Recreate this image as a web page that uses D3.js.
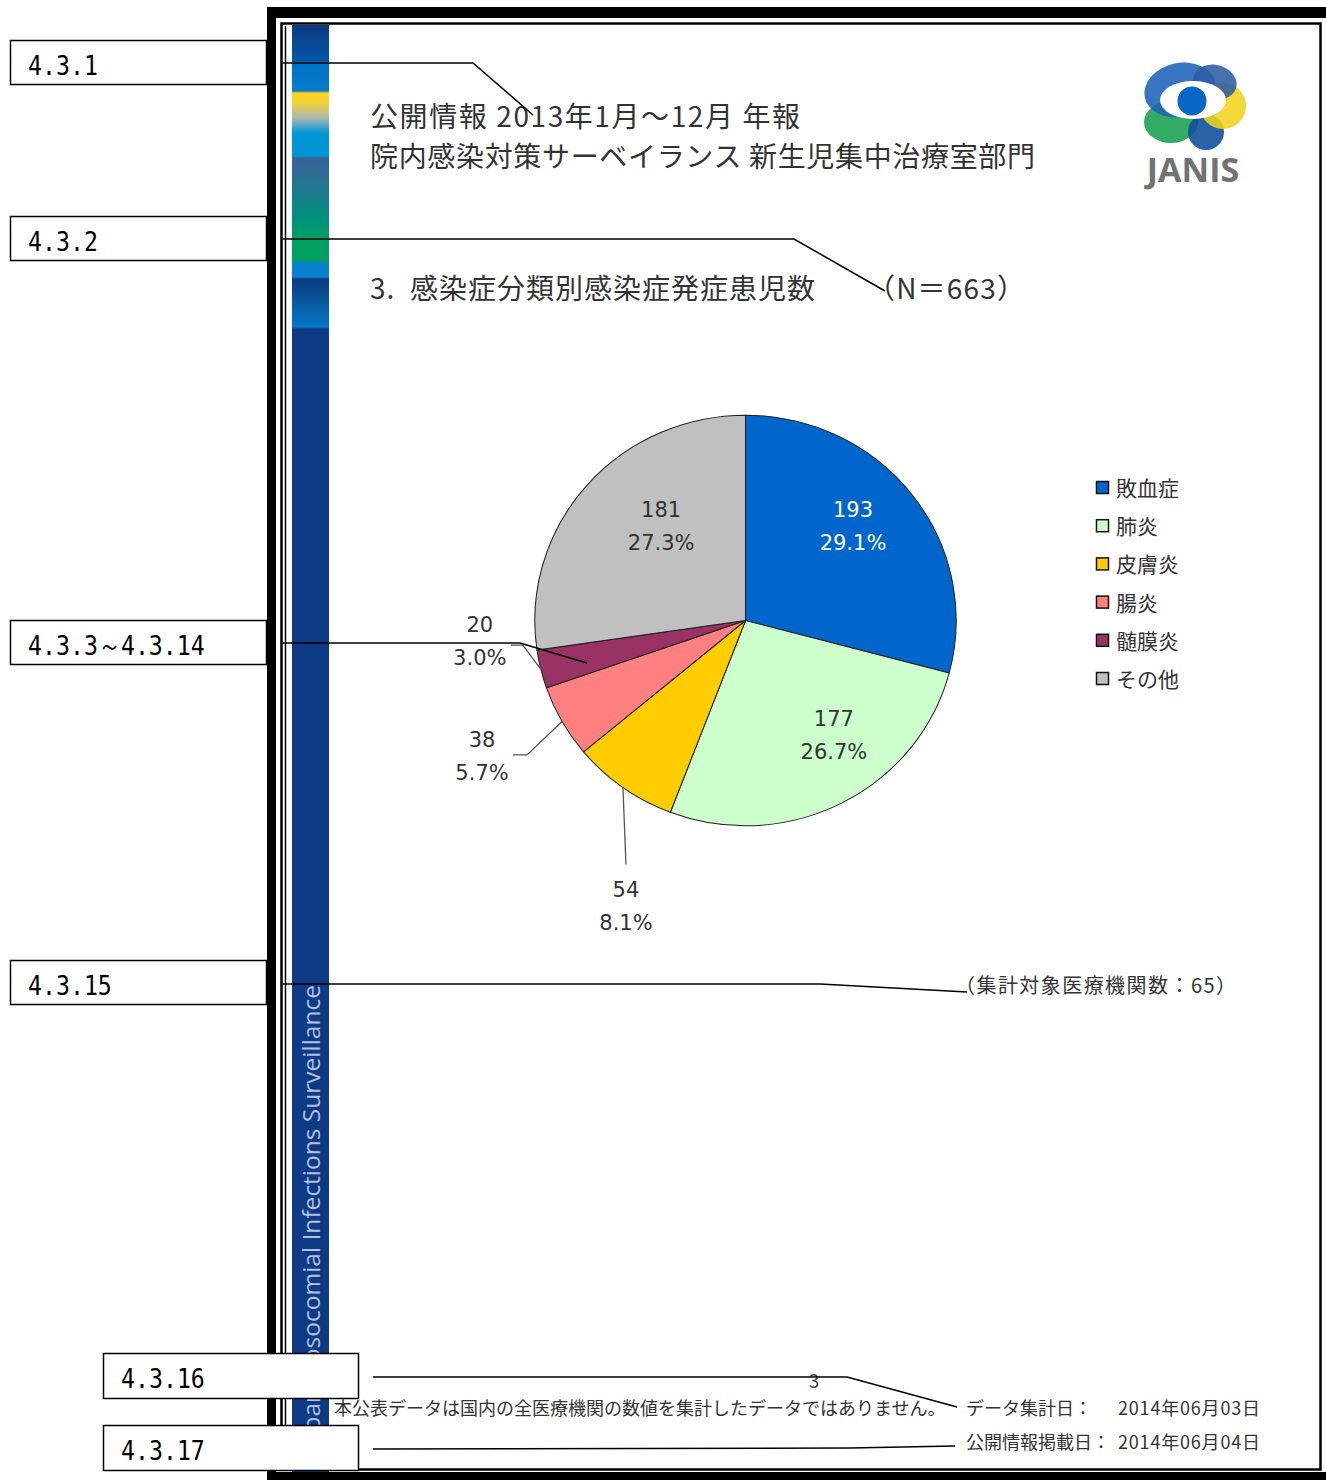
<!DOCTYPE html>
<html>
<head>
<meta charset="utf-8">
<script src="https://cdn.jsdelivr.net/npm/d3@7"></script>
<style>
body { margin: 0; background: #fff; }
svg { display: block; }
</style>
</head>
<body>
<svg id="page"></svg>
<script>
// chart data
const categories = ["敗血症", "肺炎", "皮膚炎", "腸炎", "髄膜炎", "その他"];
const counts = [193, 177, 54, 38, 20, 181];
const sliceColors = ["#0066cc", "#ccffcc", "#ffcc00", "#ff8080", "#993366", "#c0c0c0"];
const totalN = 663;
const facilityCount = 65;

const titleLines = ["公開情報 2013年1月～12月 年報", "院内感染対策サーベイランス 新生児集中治療室部門"];
const sectionTitle = "3.  感染症分類別感染症発症患児数";
const boxLabels = ["4.3.1", "4.3.2", "4.3.3～4.3.14", "4.3.15", "4.3.16", "4.3.17"];
const footNote = "本公表データは国内の全医療機関の数値を集計したデータではありません。";
const dateLabels = ["データ集計日：", "公開情報掲載日："];
const dateValues = ["2014年06月03日", "2014年06月04日"];

const W = 1326, H = 1480;
const jp = "'Noto Sans CJK JP', 'Noto Sans', sans-serif";
const svg = d3.select("#page").attr("width", W).attr("height", H);
const defs = svg.append("defs");

// ---- side stripe
const grad = defs.append("linearGradient").attr("id", "stripe")
    .attr("x1", 0).attr("y1", 0).attr("x2", 0).attr("y2", 1);
const stripeTop = 25, stripeH = H - stripeTop;
[[25, "#0c3a82"], [61, "#0656a8"], [63, "#0072c6"], [91, "#0a7cca"], [93, "#ffd21a"],
 [103, "#f4d23a"], [118, "#a9b8b4"], [133, "#0096d6"], [156, "#0096d6"], [158, "#3a6298"],
 [190, "#1e7890"], [218, "#00907a"], [240, "#00a062"], [261, "#00a062"], [263, "#0a80d0"],
 [277, "#0a80d0"], [279, "#0b3a80"], [327, "#0678c6"], [329, "#0d3b86"], [H, "#0d3b86"]]
    .forEach(s => grad.append("stop")
        .attr("offset", (s[0] - stripeTop) / stripeH)
        .attr("stop-color", s[1]));

svg.append("rect").attr("x", 292).attr("y", stripeTop).attr("width", 37).attr("height", stripeH)
    .attr("fill", "url(#stripe)");

svg.append("text")
    .attr("transform", "translate(320,985) rotate(-90)")
    .attr("text-anchor", "end")
    .attr("font-family", "'Open Sans', sans-serif")
    .attr("font-size", 24.5)
    .attr("fill", "#b4c0dc")
    .text("Japan Nosocomial Infections Surveillance");

// ---- frame
svg.append("rect").attr("x", 267).attr("y", 7).attr("width", W - 267).attr("height", 11).attr("fill", "#000");
svg.append("rect").attr("x", 267).attr("y", 7).attr("width", 9).attr("height", H - 7).attr("fill", "#000");
svg.append("rect").attr("x", 267).attr("y", 1472).attr("width", W - 267).attr("height", 8).attr("fill", "#000");
svg.append("rect").attr("x", 281.5).attr("y", 23.5).attr("width", 1039).attr("height", 1446)
    .attr("fill", "none").attr("stroke", "#000").attr("stroke-width", 2.5);
svg.append("line").attr("x1", 285.5).attr("x2", 285.5).attr("y1", 26).attr("y2", 1467)
    .attr("stroke", "#000").attr("stroke-width", 1.5);

// ---- titles
const title = svg.append("g").attr("font-family", jp).attr("font-size", 28).attr("fill", "#333");
const titleLen = [430, 665];
title.selectAll("text.t").data(titleLines).join("text").attr("class", "t")
    .attr("x", 370).attr("y", (d, i) => 127 + i * 40)
    .attr("textLength", (d, i) => titleLen[i]).attr("lengthAdjust", "spacing")
    .text(d => d);
title.append("text").attr("x", 370).attr("y", 299).attr("xml:space", "preserve")
    .attr("textLength", 445).attr("lengthAdjust", "spacing").text(sectionTitle);
title.append("text").attr("x", 867).attr("y", 299)
    .attr("textLength", 158).attr("lengthAdjust", "spacing")
    .text("（N＝" + totalN + "）");

// ---- logo
const logo = svg.append("g");
[[1171, 122, 27, 21, 0, "#16a050"], [1206, 132, 18, 18, 0, "#0c4c9c"], [1223, 106, 23, 23, 0, "#f2d21c"],
 [1180, 90, 36, 27, -12, "#1a62b6"], [1215, 82, 22, 17, 15, "#2e5ca4"]]
    .forEach(e => logo.append("ellipse")
        .attr("cx", e[0]).attr("cy", e[1]).attr("rx", e[2]).attr("ry", e[3])
        .attr("transform", `rotate(${e[4]},${e[0]},${e[1]})`)
        .attr("fill", e[5]).attr("opacity", 0.88));
logo.append("ellipse").attr("cx", 1193).attr("cy", 100).attr("rx", 33).attr("ry", 19).attr("fill", "#fff");
logo.append("circle").attr("cx", 1192).attr("cy", 101).attr("r", 14.5).attr("fill", "#0a66c4");
logo.append("text").attr("x", 1193).attr("y", 182).attr("text-anchor", "middle")
    .attr("font-family", "'Open Sans', sans-serif").attr("font-weight", 700)
    .attr("font-size", 34).attr("fill", "#727272").text("JANIS");

// ---- pie
const data = categories.map((c, i) => ({name: c, count: counts[i], color: sliceColors[i]}));
const total = d3.sum(counts);
const pctFmt = d3.format(".1%");
const cx = 745.5, cy = 620.5, R = 208, sx = 1.013, sy = 0.987;

const arcs = d3.pie().sort(null).value(d => d.count)(data);
const arc = d3.arc().innerRadius(0).outerRadius(R);

svg.append("g").attr("transform", `translate(${cx},${cy}) scale(${sx},${sy})`)
    .selectAll("path").data(arcs).join("path")
    .attr("d", arc)
    .attr("fill", d => d.data.color)
    .attr("stroke", "#222")
    .attr("stroke-width", 1);

// label placement: inside slices use the centroid, small slices get a leader line
const inside = {0: [-6, -9], 1: [23, -10], 5: [24, -3]};
const outside = {
    2: {leader: [[3, 77]], label: [3, 119]},
    3: {leader: [[-35, 33.5], [-49, 33.5]], label: [-80, 34.5]},
    4: {leader: [[-18, -24], [-30, -24]], label: [-61, -28]}
};
const edgePoint = d => {
    const a = (d.startAngle + d.endAngle) / 2;
    return [cx + R * sx * Math.sin(a), cy - R * sy * Math.cos(a)];
};
const labelArc = d3.arc().innerRadius(R * 0.68).outerRadius(R * 0.68);

const labels = svg.append("g").attr("font-family", "'DejaVu Sans', Verdana, sans-serif")
    .attr("font-size", 21).attr("text-anchor", "middle");

arcs.forEach((d, i) => {
    let lx, ly;
    if (inside[i]) {
        const c = labelArc.centroid(d);
        lx = cx + c[0] * sx + inside[i][0];
        ly = cy + c[1] * sy + inside[i][1];
    } else {
        const e = edgePoint(d);
        const o = outside[i];
        const pts = [e].concat(o.leader.map(p => [e[0] + p[0], e[1] + p[1]]));
        svg.append("path").attr("d", d3.line()(pts))
            .attr("fill", "none").attr("stroke", "#555").attr("stroke-width", 1.3);
        lx = e[0] + o.label[0];
        ly = e[1] + o.label[1];
    }
    const fill = i === 0 ? "#fff" : "#333";
    labels.append("text").attr("x", lx).attr("y", ly - 9).attr("fill", fill).text(d.data.count);
    labels.append("text").attr("x", lx).attr("y", ly + 24).attr("fill", fill).text(pctFmt(d.data.count / total));
});

// ---- legend
const legY = d3.scalePoint().domain(categories).range([488, 679]);
const legend = svg.append("g").selectAll("g").data(data).join("g")
    .attr("transform", d => `translate(1096,${legY(d.name)})`);
legend.append("rect").attr("x", 0.5).attr("y", -6.5).attr("width", 12).attr("height", 12)
    .attr("fill", d => d.color).attr("stroke", "#111").attr("stroke-width", 1.5);
legend.append("text").attr("x", 20).attr("dy", "0.38em")
    .attr("font-family", jp).attr("font-size", 21).attr("fill", "#333").text(d => d.name);

// ---- notes
svg.append("text").attr("x", 955).attr("y", 993).attr("font-family", jp).attr("font-size", 20)
    .attr("textLength", 281).attr("lengthAdjust", "spacing")
    .attr("fill", "#333").text("（集計対象医療機関数：" + facilityCount + "）");

svg.append("text").attr("x", 814).attr("y", 1388).attr("text-anchor", "middle")
    .attr("font-family", jp).attr("font-size", 19).attr("fill", "#444").text("3");

const foot = svg.append("g").attr("font-family", jp).attr("font-size", 18).attr("fill", "#333");
foot.append("text").attr("x", 334).attr("y", 1415).text(footNote);
dateLabels.forEach((t, i) => {
    foot.append("text").attr("x", 966).attr("y", 1415 + i * 34).text(t);
    foot.append("text").attr("x", 1118).attr("y", 1415 + i * 34)
        .attr("textLength", 142).attr("lengthAdjust", "spacing").text(dateValues[i]);
});

// ---- annotation boxes with callout lines
const boxes = [
    {x: 10, y: 40, w: 256, h: 44, line: [[283, 63], [473, 63], [533, 115]]},
    {x: 10, y: 216, w: 256, h: 44, line: [[283, 239], [794, 239], [885, 291]]},
    {x: 10, y: 620, w: 256, h: 44, line: [[283, 643], [520, 643], [587, 663]]},
    {x: 10, y: 960, w: 256, h: 44, line: [[283, 984], [820, 984], [967, 992]]},
    {x: 103, y: 1353, w: 255, h: 45, line: [[373, 1377], [847, 1377], [957, 1407]]},
    {x: 103, y: 1425, w: 255, h: 45, line: [[373, 1449], [850, 1448], [955, 1446]]}
];
boxes.forEach((b, i) => {
    svg.append("path").attr("d", d3.line()(b.line))
        .attr("fill", "none").attr("stroke", "#000").attr("stroke-width", 1.5);
    svg.append("rect").attr("x", b.x + 0.5).attr("y", b.y + 0.5).attr("width", b.w).attr("height", b.h)
        .attr("fill", "#fff").attr("stroke", "#000").attr("stroke-width", 1.5);
    svg.append("text")
        .attr("transform", `translate(${b.x + 18},${b.y + 35}) scale(0.86,1)`)
        .attr("font-family", "'DejaVu Sans Mono', 'Liberation Mono', monospace")
        .attr("font-size", 27).attr("fill", "#000").text(boxLabels[i]);
});
</script>
</body>
</html>
